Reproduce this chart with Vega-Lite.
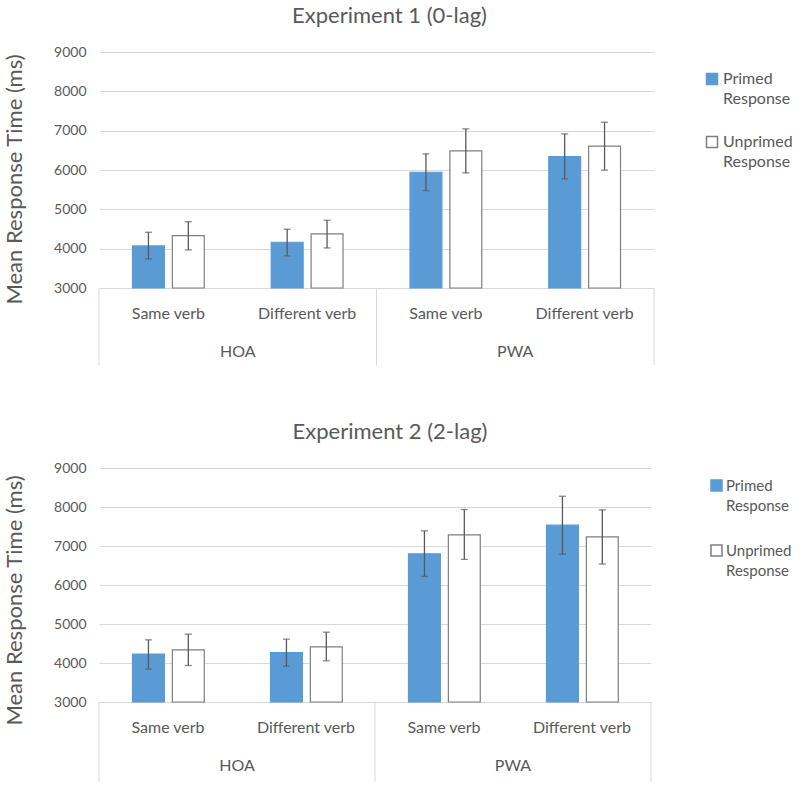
{
  "$schema": "https://vega.github.io/schema/vega-lite/v6.json",
  "background": "white",
  "padding": {"left": 3, "top": 5, "right": 0, "bottom": 0},
  "config": {
    "font": "Lato",
    "view": {"stroke": null},
    "axis": {"labelFont": "Lato", "titleFont": "Lato", "labelColor": "#595959", "titleColor": "#595959"},
    "axisY": {"tickCount": 7, "values": [3000, 4000, 5000, 6000, 7000, 8000, 9000], "format": "d", "labelOverlap": false, "labelFontSize": 14, "labelPadding": 13, "titleFontSize": 22, "titleFontWeight": "normal", "titlePadding": 27, "ticks": false, "domain": false, "grid": true, "gridColor": "#d9d9d9"},
    "legend": {"labelFont": "Lato"}
  },
  "datasets": {
    "rt": [
      {"exp": "Experiment 1", "grp": "HOA", "verb": "Same verb", "cat": "HOA|Same verb", "cond": "Primed Response", "mean": 4070, "lo": 3738, "hi": 4417},
      {"exp": "Experiment 1", "grp": "HOA", "verb": "Same verb", "cat": "HOA|Same verb", "cond": "Unprimed Response", "mean": 4331, "lo": 3967, "hi": 4687},
      {"exp": "Experiment 1", "grp": "HOA", "verb": "Different verb", "cat": "HOA|Different verb", "cond": "Primed Response", "mean": 4163, "lo": 3814, "hi": 4494},
      {"exp": "Experiment 1", "grp": "HOA", "verb": "Different verb", "cat": "HOA|Different verb", "cond": "Unprimed Response", "mean": 4374, "lo": 4018, "hi": 4722},
      {"exp": "Experiment 1", "grp": "PWA", "verb": "Same verb", "cat": "PWA|Same verb", "cond": "Primed Response", "mean": 5943, "lo": 5476, "hi": 6410},
      {"exp": "Experiment 1", "grp": "PWA", "verb": "Same verb", "cat": "PWA|Same verb", "cond": "Unprimed Response", "mean": 6486, "lo": 5926, "hi": 7046},
      {"exp": "Experiment 1", "grp": "PWA", "verb": "Different verb", "cat": "PWA|Different verb", "cond": "Primed Response", "mean": 6342, "lo": 5774, "hi": 6918},
      {"exp": "Experiment 1", "grp": "PWA", "verb": "Different verb", "cat": "PWA|Different verb", "cond": "Unprimed Response", "mean": 6605, "lo": 5995, "hi": 7214},
      {"exp": "Experiment 2", "grp": "HOA", "verb": "Same verb", "cat": "HOA|Same verb", "cond": "Primed Response", "mean": 4228, "lo": 3844, "hi": 4593},
      {"exp": "Experiment 2", "grp": "HOA", "verb": "Same verb", "cat": "HOA|Same verb", "cond": "Unprimed Response", "mean": 4338, "lo": 3936, "hi": 4739},
      {"exp": "Experiment 2", "grp": "HOA", "verb": "Different verb", "cat": "HOA|Different verb", "cond": "Primed Response", "mean": 4269, "lo": 3920, "hi": 4611},
      {"exp": "Experiment 2", "grp": "HOA", "verb": "Different verb", "cat": "HOA|Different verb", "cond": "Unprimed Response", "mean": 4414, "lo": 4056, "hi": 4790},
      {"exp": "Experiment 2", "grp": "PWA", "verb": "Same verb", "cat": "PWA|Same verb", "cond": "Primed Response", "mean": 6800, "lo": 6222, "hi": 7389},
      {"exp": "Experiment 2", "grp": "PWA", "verb": "Same verb", "cat": "PWA|Same verb", "cond": "Unprimed Response", "mean": 7287, "lo": 6657, "hi": 7936},
      {"exp": "Experiment 2", "grp": "PWA", "verb": "Different verb", "cat": "PWA|Different verb", "cond": "Primed Response", "mean": 7535, "lo": 6793, "hi": 8276},
      {"exp": "Experiment 2", "grp": "PWA", "verb": "Different verb", "cat": "PWA|Different verb", "cond": "Unprimed Response", "mean": 7236, "lo": 6537, "hi": 7927}
    ]
  },
  "spacing": 55,
  "resolve": {"legend": {"fill": "independent", "stroke": "independent"}},
  "vconcat": [
    {
      "title": {"text": "Experiment 1 (0-lag)", "fontSize": 22, "font": "Lato", "fontWeight": "normal", "color": "#595959", "offset": 17, "dx": 13},
      "width": 555,
      "height": 236,
      "data": {"name": "rt"},
      "transform": [{"filter": "datum.exp == 'Experiment 1'"}],
      "encoding": {
        "x": {
          "field": "cat", "type": "nominal",
          "sort": ["HOA|Same verb", "HOA|Different verb", "PWA|Same verb", "PWA|Different verb"],
          "scale": {"paddingInner": 0, "paddingOuter": 0},
          "axis": {"title": null, "labelExpr": "split(datum.label, '|')[1]", "labelAngle": 0, "labelFontSize": 16, "labelPadding": 17, "ticks": false, "domainColor": "#d9d9d9", "grid": false}
        }
      },
      "layer": [
        {
          "mark": {"type": "bar", "strokeWidth": 1.2},
          "encoding": {
            "xOffset": {"field": "cond", "type": "nominal", "scale": {"paddingInner": 0.2, "paddingOuter": 0.84}},
            "y": {"field": "mean", "type": "quantitative", "title": "Mean Response Time (ms)",
                  "scale": {"domain": [3000, 9000], "nice": false, "zero": false},
                  "axis": {"values": [3000, 4000, 5000, 6000, 7000, 8000, 9000], "tickCount": 7, "titleY": 127}},
            "y2": {"datum": 3000},
            "fill": {"field": "cond", "type": "nominal", "scale": {"domain": ["Primed Response", "Unprimed Response"], "range": ["#5B9BD5", "#ffffff"]},
                     "legend": {"title": null, "orient": "none", "legendX": 605, "legendY": 19, "labelExpr": "split(datum.label, ' ')", "labelFontSize": 16, "labelColor": "#595959", "labelOffset": 3, "symbolType": "square", "symbolSize": 121, "rowPadding": 26, "labelLimit": 200, "encode": {"labels": {"update": {"lineHeight": {"value": 20}}}}}},
            "stroke": {"field": "cond", "type": "nominal", "scale": {"domain": ["Primed Response", "Unprimed Response"], "range": ["#5B9BD5", "#7f7f7f"]},
                     "legend": {"title": null, "orient": "none", "legendX": 605, "legendY": 19, "labelExpr": "split(datum.label, ' ')", "labelFontSize": 16, "labelColor": "#595959", "labelOffset": 3, "symbolType": "square", "symbolSize": 121, "rowPadding": 26, "labelLimit": 200, "encode": {"labels": {"update": {"lineHeight": {"value": 20}}}}}}
          }
        },
        {
          "mark": {"type": "rule", "color": "#595959", "strokeWidth": 1.3},
          "encoding": {
            "xOffset": {"field": "cond", "type": "nominal"},
            "y": {"field": "lo", "type": "quantitative", "title": "Mean Response Time (ms)"},
            "y2": {"field": "hi"}
          }
        },
        {
          "mark": {"type": "tick", "color": "#595959", "size": 7, "thickness": 1.3},
          "encoding": {
            "xOffset": {"field": "cond", "type": "nominal"},
            "y": {"field": "lo", "type": "quantitative", "title": "Mean Response Time (ms)"}
          }
        },
        {
          "mark": {"type": "tick", "color": "#595959", "size": 7, "thickness": 1.3},
          "encoding": {
            "xOffset": {"field": "cond", "type": "nominal"},
            "y": {"field": "hi", "type": "quantitative", "title": "Mean Response Time (ms)"}
          }
        },
        {
          "transform": [{"filter": "datum.verb == 'Same verb' && datum.cond == 'Primed Response'"}],
          "mark": {"type": "rule", "color": "#d9d9d9", "strokeWidth": 1},
          "encoding": {
            "x": {"field": "cat", "type": "nominal", "bandPosition": 0},
            "y": {"datum": 3000},
            "y2": {"datum": 1040}
          }
        },
        {
          "transform": [{"filter": "datum.cat == 'PWA|Different verb' && datum.cond == 'Primed Response'"}],
          "mark": {"type": "rule", "color": "#d9d9d9", "strokeWidth": 1},
          "encoding": {
            "x": {"field": "cat", "type": "nominal", "bandPosition": 1},
            "y": {"datum": 3000},
            "y2": {"datum": 1040}
          }
        },
        {
          "transform": [{"filter": "datum.verb == 'Different verb' && datum.cond == 'Primed Response'"}],
          "mark": {"type": "text", "fontSize": 16, "color": "#595959", "font": "Lato"},
          "encoding": {
            "x": {"field": "cat", "type": "nominal", "bandPosition": 0},
            "y": {"datum": 1372},
            "text": {"field": "grp"}
          }
        }
      ]
    },
    {
      "title": {"text": "Experiment 2 (2-lag)", "fontSize": 22, "font": "Lato", "fontWeight": "normal", "color": "#595959", "offset": 17, "dx": 15},
      "width": 552,
      "height": 234,
      "data": {"name": "rt"},
      "transform": [{"filter": "datum.exp == 'Experiment 2'"}],
      "encoding": {
        "x": {
          "field": "cat", "type": "nominal",
          "sort": ["HOA|Same verb", "HOA|Different verb", "PWA|Same verb", "PWA|Different verb"],
          "scale": {"paddingInner": 0, "paddingOuter": 0},
          "axis": {"title": null, "labelExpr": "split(datum.label, '|')[1]", "labelAngle": 0, "labelFontSize": 16, "labelPadding": 17, "ticks": false, "domainColor": "#d9d9d9", "grid": false}
        }
      },
      "layer": [
        {
          "mark": {"type": "bar", "strokeWidth": 1.2},
          "encoding": {
            "xOffset": {"field": "cond", "type": "nominal", "scale": {"paddingInner": 0.2, "paddingOuter": 0.84}},
            "y": {"field": "mean", "type": "quantitative", "title": "Mean Response Time (ms)",
                  "scale": {"domain": [3000, 9000], "nice": false, "zero": false},
                  "axis": {"values": [3000, 4000, 5000, 6000, 7000, 8000, 9000], "tickCount": 7, "titleY": 132}},
            "y2": {"datum": 3000},
            "fill": {"field": "cond", "type": "nominal", "scale": {"domain": ["Primed Response", "Unprimed Response"], "range": ["#5B9BD5", "#ffffff"]},
                     "legend": {"title": null, "orient": "none", "legendX": 610, "legendY": 10, "labelExpr": "split(datum.label, ' ')", "labelFontSize": 15, "labelColor": "#595959", "labelOffset": 2, "symbolType": "square", "symbolSize": 121, "rowPadding": 28, "labelLimit": 200, "encode": {"labels": {"update": {"lineHeight": {"value": 20}}}}}},
            "stroke": {"field": "cond", "type": "nominal", "scale": {"domain": ["Primed Response", "Unprimed Response"], "range": ["#5B9BD5", "#7f7f7f"]},
                     "legend": {"title": null, "orient": "none", "legendX": 610, "legendY": 10, "labelExpr": "split(datum.label, ' ')", "labelFontSize": 15, "labelColor": "#595959", "labelOffset": 2, "symbolType": "square", "symbolSize": 121, "rowPadding": 28, "labelLimit": 200, "encode": {"labels": {"update": {"lineHeight": {"value": 20}}}}}}
          }
        },
        {
          "mark": {"type": "rule", "color": "#595959", "strokeWidth": 1.3},
          "encoding": {
            "xOffset": {"field": "cond", "type": "nominal"},
            "y": {"field": "lo", "type": "quantitative", "title": "Mean Response Time (ms)"},
            "y2": {"field": "hi"}
          }
        },
        {
          "mark": {"type": "tick", "color": "#595959", "size": 7, "thickness": 1.3},
          "encoding": {
            "xOffset": {"field": "cond", "type": "nominal"},
            "y": {"field": "lo", "type": "quantitative", "title": "Mean Response Time (ms)"}
          }
        },
        {
          "mark": {"type": "tick", "color": "#595959", "size": 7, "thickness": 1.3},
          "encoding": {
            "xOffset": {"field": "cond", "type": "nominal"},
            "y": {"field": "hi", "type": "quantitative", "title": "Mean Response Time (ms)"}
          }
        },
        {
          "transform": [{"filter": "datum.verb == 'Same verb' && datum.cond == 'Primed Response'"}],
          "mark": {"type": "rule", "color": "#d9d9d9", "strokeWidth": 1},
          "encoding": {
            "x": {"field": "cat", "type": "nominal", "bandPosition": 0},
            "y": {"datum": 3000},
            "y2": {"datum": 950}
          }
        },
        {
          "transform": [{"filter": "datum.cat == 'PWA|Different verb' && datum.cond == 'Primed Response'"}],
          "mark": {"type": "rule", "color": "#d9d9d9", "strokeWidth": 1},
          "encoding": {
            "x": {"field": "cat", "type": "nominal", "bandPosition": 1},
            "y": {"datum": 3000},
            "y2": {"datum": 950}
          }
        },
        {
          "transform": [{"filter": "datum.verb == 'Different verb' && datum.cond == 'Primed Response'"}],
          "mark": {"type": "text", "fontSize": 16, "color": "#595959", "font": "Lato"},
          "encoding": {
            "x": {"field": "cat", "type": "nominal", "bandPosition": 0},
            "y": {"datum": 1363},
            "text": {"field": "grp"}
          }
        }
      ]
    }
  ]
}
